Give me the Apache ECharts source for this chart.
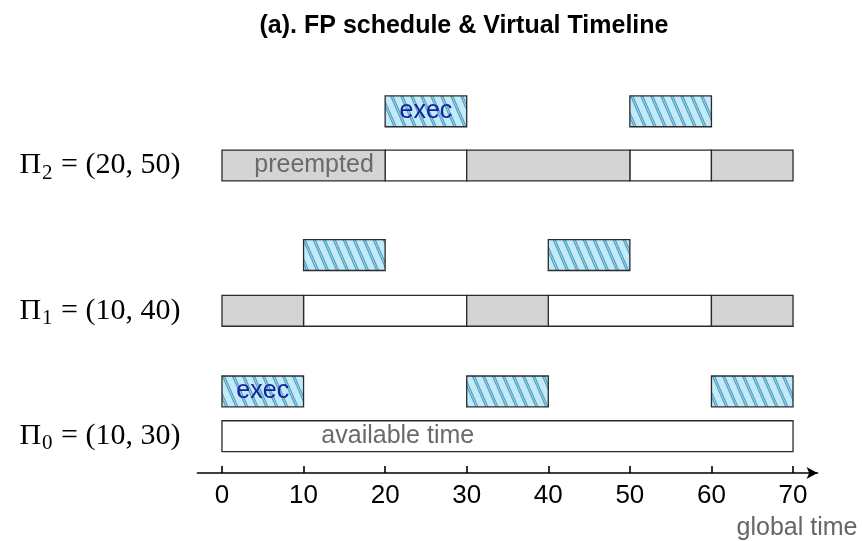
<!DOCTYPE html>
<html><head><meta charset="utf-8">
<script src="https://cdn.jsdelivr.net/npm/echarts@6/dist/echarts.min.js"></script>
<style>html,body{margin:0;padding:0;background:#fff}#c{width:862px;height:541px}</style>
</head><body><div id="c"></div>
<script>
// ---------- data ----------
const titleText = '(a). FP schedule & Virtual Timeline';
const taskSymbol = 'Π';
const taskIds = [0, 1, 2];
const budgets = [10, 10, 20];
const periods = [30, 40, 50];
const xTicks = [0, 10, 20, 30, 40, 50, 60, 70];
const xAxisName = 'global time';
// [start, end, text]
const exec0 = [[0, 10, 'exec'], [30, 40, ''], [60, 70, '']];
const exec1 = [[10, 20, ''], [40, 50, '']];
const exec2 = [[20, 30, 'exec'], [50, 60, '']];
const avail0 = [[0, 70, 'available time']];
const avail1 = [[10, 30, ''], [40, 60, '']];
const avail2 = [[20, 30, ''], [50, 60, '']];
const preempt0 = [];
const preempt1 = [[0, 10, ''], [30, 40, ''], [60, 70, '']];
const preempt2 = [[0, 20, 'preempted'], [30, 50, ''], [60, 70, '']];

// ---------- layout (axis units) ----------
const rowLevel = [3.7, 16.3, 30.9];
const execLevel = [8.2, 21.9, 36.35];
const boxH = 3.1;

const KIND_AVAIL = 0, KIND_PRE = 1, KIND_EXEC = 2;
const items = [];
function add(list, row, kind, level) {
  list.forEach(d => items.push({ value: [d[0], d[1], level, kind, row], text: d[2] }));
}
[avail0, avail1, avail2].forEach((l, i) => add(l, i, KIND_AVAIL, rowLevel[i]));
[preempt0, preempt1, preempt2].forEach((l, i) => add(l, i, KIND_PRE, rowLevel[i]));
[exec0, exec1, exec2].forEach((l, i) => add(l, i, KIND_EXEC, execLevel[i]));

// hatch pattern (steep "\" lines, double-edged look)
const TW = 10, TH = 23;
const pc = document.createElement('canvas');
pc.width = TW; pc.height = TH;
const g = pc.getContext('2d');
g.fillStyle = '#c2eaf8';
g.fillRect(0, 0, TW, TH);
function hatchLines(color, w) {
  g.strokeStyle = color;
  g.lineWidth = w;
  for (let k = -1; k <= 1; k++) {
    g.beginPath();
    g.moveTo(k * TW - TW * 0.3, -TH * 0.3);
    g.lineTo(k * TW + TW * 1.3, TH * 1.3);
    g.stroke();
  }
}
hatchLines('#4f9dbd', 3);
hatchLines('#9fd3e8', 1);
const hatch = { image: pc, repeat: 'repeat' };

function renderItem(params, api) {
  const s = api.value(0), e = api.value(1), lv = api.value(2), kind = api.value(3);
  const p0 = api.coord([s, lv + boxH / 2]);
  const p1 = api.coord([e, lv - boxH / 2]);
  const it = items[params.dataIndex];
  const fill = kind === KIND_EXEC ? hatch : (kind === KIND_PRE ? '#d4d4d4' : '#ffffff');
  const el = {
    type: 'rect',
    shape: { x: p0[0], y: p0[1], width: p1[0] - p0[0], height: p1[1] - p0[1] },
    style: { fill: fill, stroke: '#2b2b2b', lineWidth: 1.3 }
  };
  if (it.text) {
    const isExec = kind === KIND_EXEC;
    el.textContent = {
      style: {
        text: it.text,
        fill: isExec ? '#17229c' : '#6a6a6a',
        fontSize: 25,
        fontFamily: 'Liberation Sans, Arial, sans-serif'
      }
    };
    let pos = 'inside', dist = 0;
    if (kind === KIND_AVAIL) { pos = 'insideLeft'; dist = 100; }
    if (kind === KIND_PRE) { pos = 'insideRight'; dist = 12; }
    el.textConfig = { position: pos, distance: dist };
  }
  return el;
}

const chart = echarts.init(document.getElementById('c'), null, { renderer: 'canvas' });
chart.setOption({
  animation: false,
  backgroundColor: '#fff',
  title: {
    text: titleText,
    left: 459,
    top: 9,
    textAlign: 'center',
    textStyle: { fontSize: 25, fontWeight: 'bold', color: '#000', fontFamily: 'Liberation Sans, Arial, sans-serif' }
  },
  grid: { left: 197.5, right: 44.5, top: 75, bottom: 66 },
  xAxis: {
    type: 'value',
    min: -3,
    max: 73,
    splitLine: { show: false },
    axisLine: {
      show: true,
      onZero: false,
      lineStyle: { color: '#000', width: 1.6 },
      symbol: ['none', 'arrow'],
      symbolSize: [9, 11]
    },
    axisTick: { show: true, inside: true, length: 7, customValues: xTicks, lineStyle: { color: '#000', width: 1.6 } },
    axisLabel: {
      customValues: xTicks,
      margin: 10,
      fontSize: 26,
      color: '#000',
      fontFamily: 'Liberation Sans, Arial, sans-serif'
    },
    name: xAxisName,
    nameLocation: 'end',
    nameGap: 40,
    nameTextStyle: {
      fontSize: 25, color: '#666', align: 'right', verticalAlign: 'top',
      padding: [43, 0, 0, 0], fontFamily: 'Liberation Sans, Arial, sans-serif'
    }
  },
  yAxis: {
    type: 'value',
    min: 0,
    max: 40,
    axisLine: { show: false },
    axisTick: { show: false },
    splitLine: { show: false },
    axisLabel: {
      customValues: rowLevel,
      margin: 17,
      formatter: function (v) {
        let i = rowLevel.findIndex(r => Math.abs(r - v) < 1e-6);
        if (i < 0) return '';
        return '{pi|' + taskSymbol + '}{sub|' + taskIds[i] + '}{t| = (' + budgets[i] + ', ' + periods[i] + ')}';
      },
      rich: {
        pi: { fontSize: 30, fontFamily: 'Liberation Serif, serif', color: '#000' },
        sub: { fontSize: 21, fontFamily: 'Liberation Serif, serif', color: '#000', padding: [15, 1, 0, 1] },
        t: { fontSize: 30, fontFamily: 'Liberation Serif, serif', color: '#000' }
      }
    }
  },
  series: [{
    type: 'custom',
    renderItem: renderItem,
    clip: false,
    encode: { x: [0, 1], y: 2 },
    data: items
  }]
});
</script>
</body></html>
